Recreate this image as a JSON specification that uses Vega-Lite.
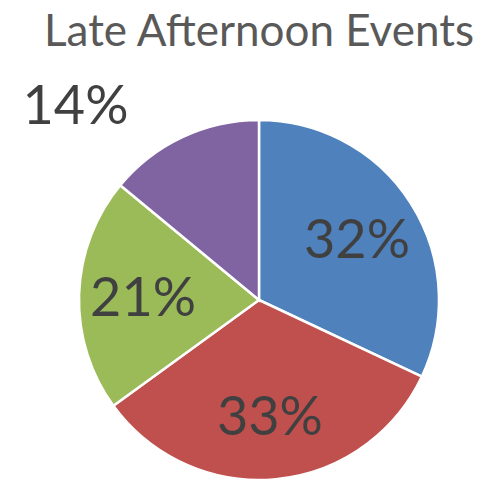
{
  "$schema": "https://vega.github.io/schema/vega-lite/v6.json",
  "width": 450,
  "height": 360,
  "autosize": {"type": "none"},
  "padding": {"left": 34, "top": 120, "right": 0, "bottom": 3},
  "background": "white",
  "title": {
    "text": "Late Afternoon Events",
    "font": "Lato",
    "fontSize": 44,
    "fontWeight": "normal",
    "color": "#595959",
    "anchor": "middle",
    "offset": 26
  },
  "view": {"stroke": null},
  "data": {
    "values": [
      {"slice": "A", "order": 1, "value": 32, "label": "32%"},
      {"slice": "B", "order": 2, "value": 33, "label": "33%"},
      {"slice": "C", "order": 3, "value": 21, "label": "21%"},
      {"slice": "D", "order": 4, "value": 14, "label": "14%"}
    ]
  },
  "encoding": {
    "theta": {"field": "value", "type": "quantitative", "stack": true},
    "order": {"field": "order", "type": "quantitative"}
  },
  "layer": [
    {
      "mark": {"type": "arc", "stroke": "white", "strokeWidth": 2.5},
      "encoding": {
        "color": {
          "field": "slice",
          "type": "nominal",
          "scale": {"domain": ["A", "B", "C", "D"], "range": ["#4F81BD", "#C0504D", "#9BBB59", "#8064A2"]},
          "legend": null
        }
      }
    },
    {
      "mark": {"type": "text", "radius": 116, "dy": 4, "font": "Lato", "fontSize": 54, "color": "#404040", "baseline": "middle", "align": "center"},
      "encoding": {"text": {"condition": {"test": "datum.slice == 'D'", "value": ""}, "field": "label"}}
    },
    {
      "mark": {"type": "text", "radius": 215, "dx": -92, "dy": 3, "font": "Lato", "fontSize": 54, "color": "#404040", "baseline": "middle", "align": "center"},
      "encoding": {"text": {"condition": {"test": "datum.slice != 'D'", "value": ""}, "field": "label"}}
    }
  ]
}
